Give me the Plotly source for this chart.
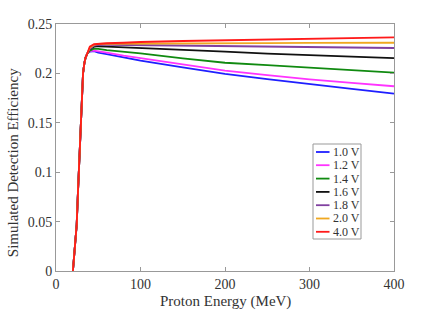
import plotly.graph_objects as go

energy = [20, 22, 24.5, 26, 27.6, 29, 30.8, 32, 33.5, 35, 37,
          40, 45, 50, 60, 80, 100, 150, 200, 250, 300, 350, 400]
rise = [0.0, 0.02, 0.047, 0.08, 0.115, 0.15, 0.183, 0.2, 0.21, 0.216, 0.220]

eff_10 = rise + [0.222, 0.2225, 0.221, 0.2195, 0.216, 0.213, 0.2062, 0.1995, 0.1942, 0.189, 0.1843, 0.1796]
eff_12 = rise + [0.2225, 0.223, 0.2225, 0.221, 0.218, 0.2155, 0.2092, 0.2028, 0.1983, 0.194, 0.1905, 0.187]
eff_14 = rise + [0.223, 0.225, 0.2248, 0.2235, 0.222, 0.2203, 0.2153, 0.2108, 0.2083, 0.2058, 0.2032, 0.2007]
eff_16 = rise + [0.2245, 0.227, 0.2275, 0.2272, 0.2265, 0.226, 0.224, 0.222, 0.220, 0.2183, 0.217, 0.2155]
eff_18 = rise + [0.225, 0.228, 0.229, 0.229, 0.2288, 0.2285, 0.228, 0.2273, 0.2267, 0.2262, 0.226, 0.2257]
eff_20 = rise + [0.226, 0.229, 0.2298, 0.230, 0.230, 0.2302, 0.2304, 0.2306, 0.2307, 0.2308, 0.231, 0.231]
eff_40 = rise + [0.227, 0.2295, 0.230, 0.2305, 0.231, 0.2318, 0.2328, 0.2335, 0.234, 0.235, 0.2357, 0.2365]

labels = ["1.0 V", "1.2 V", "1.4 V", "1.6 V", "1.8 V", "2.0 V", "4.0 V"]
series = [eff_10, eff_12, eff_14, eff_16, eff_18, eff_20, eff_40]
colors = ["#1f1fff", "#ff33ff", "#108a10", "#111111", "#8040a0", "#f0a820", "#ff1a1a"]

W, H = 436, 310
L, R, T, B = 56, 42, 24, 39
PW, PH = W - L - R, H - T - B
FONT = "Liberation Serif, Times New Roman, serif"

fig = go.Figure()
for lab, ys, c in zip(labels, series, colors):
    fig.add_trace(go.Scatter(x=energy, y=ys, mode="lines", name=lab,
                             line=dict(color=c, width=1.8)))

axis_common = dict(showgrid=False, zeroline=False, showline=True, linecolor="#999999",
                   linewidth=1, mirror="ticks", ticks="inside", ticklen=4, tickcolor="#999999",
                   automargin=False,
                   tickfont=dict(family=FONT, size=14, color="#333333"))

fig.update_layout(
    width=W, height=H,
    margin=dict(l=L, r=R, t=T, b=B),
    paper_bgcolor="white", plot_bgcolor="white",
    font=dict(family=FONT, color="#333333"),
    xaxis=dict(range=[0, 400], tickvals=[0, 100, 200, 300, 400], **axis_common),
    yaxis=dict(range=[0, 0.25], tickvals=[0, 0.05, 0.1, 0.15, 0.2, 0.25],
               ticktext=["0", "0.05", "0.1", "0.15", "0.2", "0.25"], **axis_common),
    showlegend=False,
)

# axis titles
fig.add_annotation(text="Proton Energy (MeV)", xref="paper", yref="paper",
                   x=0.5, y=-(301.5 - (T + PH)) / PH, xanchor="center", yanchor="middle",
                   showarrow=False, font=dict(family=FONT, size=15, color="#333333"))
fig.add_annotation(text="Simulated Detection Efficiency", xref="paper", yref="paper",
                   x=-(L - 12.7) / PW, y=(T + PH - 162.5) / PH, xanchor="center", yanchor="middle",
                   textangle=-90, showarrow=False,
                   font=dict(family=FONT, size=15, color="#333333"))

# legend box (drawn manually for compact spacing)
def px(xp):
    return (xp - L) / PW

def py(yp):
    return (T + PH - yp) / PH

fig.add_shape(type="rect", xref="paper", yref="paper",
              x0=px(313), x1=px(361), y0=py(239), y1=py(144),
              line=dict(color="#999999", width=1), fillcolor="white", layer="above")
entry_y = [152, 165.2, 178.6, 191.9, 205.2, 218.5, 231.8]
for lab, c, yy in zip(labels, colors, entry_y):
    fig.add_shape(type="line", xref="paper", yref="paper",
                  x0=px(316), x1=px(329.5), y0=py(yy), y1=py(yy),
                  line=dict(color=c, width=1.8), layer="above")
    fig.add_annotation(text=lab, xref="paper", yref="paper", x=px(331), y=py(yy),
                       xanchor="left", yanchor="middle", showarrow=False,
                       font=dict(family=FONT, size=12, color="#333333"))

fig.write_html("out.html", config={"displayModeBar": False},
               post_script="document.body.style.margin='0';document.body.style.padding='0';")
